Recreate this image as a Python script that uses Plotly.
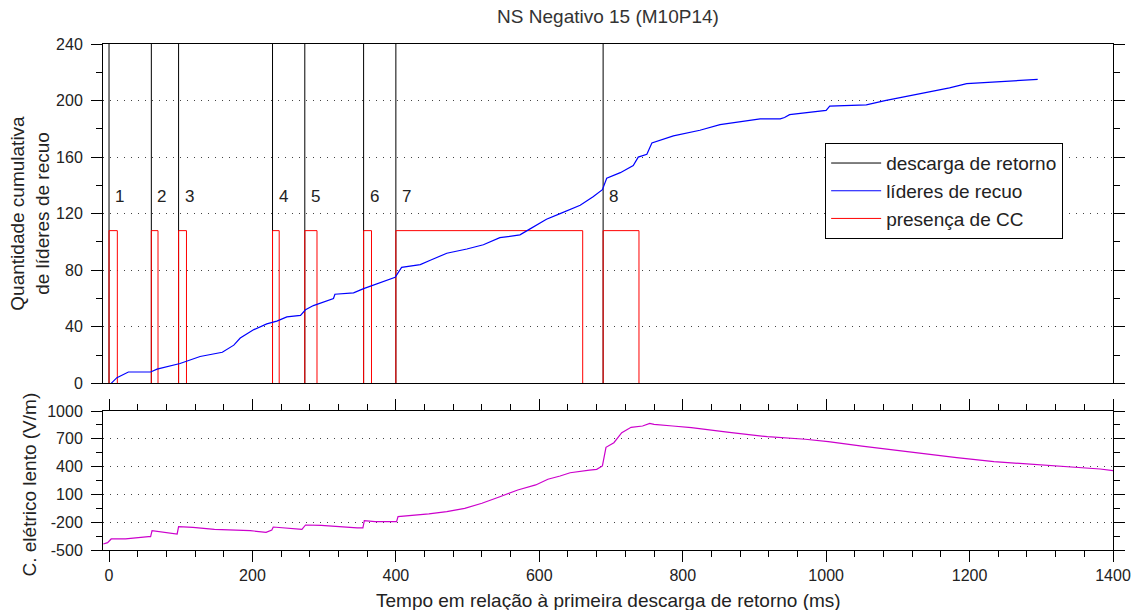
import plotly.graph_objects as go

# ---------------- data ----------------
stroke_times = [0, 59, 97, 228, 273, 355, 400, 689]
stroke_labels = ["1", "2", "3", "4", "5", "6", "7", "8"]
cc_end = [11.6, 68.3, 108, 237.3, 290, 366, 660.5, 739]
cc_level = 108

leader_t = [3, 11, 27, 58, 67, 85, 99, 127, 158, 174, 183, 202, 220, 234, 248, 267, 274, 285,
            313, 315, 341, 355, 378, 399, 408, 424, 434, 448, 471, 499, 522, 545, 573, 583,
            610, 629, 657, 675, 688, 694, 713, 731, 738, 750, 757, 787, 824, 852, 908, 936,
            942, 949, 1000, 1005, 1056, 1082, 1112, 1147, 1172, 1196, 1228, 1258, 1295]
leader_n = [0, 4, 8, 8, 10, 12, 14, 19, 22, 27, 32, 38, 42, 44, 47, 48, 52, 55,
            60, 63, 64, 67, 71, 75, 82, 83, 84, 87, 92, 95, 98, 103, 105, 108,
            116, 120, 126, 132, 137, 145, 149, 154, 160, 162, 170, 175, 179, 183, 187, 187,
            188, 190, 193, 196, 197, 200, 203, 206, 209, 212, 213, 214, 215]

field_t = [-8, -2, 3, 23, 55, 58, 60, 82, 95, 97, 117, 147, 197, 219, 227, 229, 247, 269, 274,
           296, 346, 354, 356, 371, 401, 403, 446, 471, 496, 520, 545, 570, 595, 612, 629, 643,
           670, 680, 688, 693, 704, 715, 728, 744, 754, 760, 786, 812, 865, 918, 971, 1003,
           1050, 1129, 1182, 1234, 1287, 1340, 1382, 1400]
field_e = [-435, -421, -381, -381, -356, -356, -291, -309, -327, -248, -255, -277, -291, -309,
           -284, -252, -262, -277, -230, -234, -262, -262, -184, -194, -194, -140, -111, -86,
           -50, 4, 75, 148, 202, 263, 299, 334, 363, 371, 407, 608, 658, 766, 824, 838, 867,
           856, 838, 820, 770, 723, 695, 669, 622, 544, 496, 453, 425, 392, 374, 356]

y1_ticks = [0, 40, 80, 120, 160, 200, 240]
y2_ticks = [-500, -200, 100, 400, 700, 1000]
y2_text = ["-500", "-200", "100", "400", "700", "1000"]
x_ticks = [0, 200, 400, 600, 800, 1000, 1200, 1400]

title_text = "NS Negativo 15 (M10P14)"
y1_title = "Quantidade cumulativa<br>de líderes de recuo"
y2_title = "C. elétrico lento (V/m)"
x_title = "Tempo em relação à primeira descarga de retorno (ms)"

# ---------------- figure ----------------
FONT = "Liberation Sans, Arial, sans-serif"
fig = go.Figure()

sx, sy = [], []
for t in stroke_times:
    sx += [t, t, None]
    sy += [0, 240, None]
fig.add_trace(go.Scatter(x=sx, y=sy, mode="lines", line=dict(color="#000000", width=1),
                         name="descarga de retorno", legendrank=1,
                         xaxis="x", yaxis="y", hoverinfo="skip"))

cx, cy = [], []
for s, e in zip(stroke_times, cc_end):
    cx += [s, s, e, e, None]
    cy += [0, cc_level, cc_level, 0, None]
fig.add_trace(go.Scatter(x=cx, y=cy, mode="lines", line=dict(color="#FF0000", width=1),
                         name="presença de CC", legendrank=3,
                         xaxis="x", yaxis="y"))

fig.add_trace(go.Scatter(x=leader_t, y=leader_n, mode="lines",
                         line=dict(color="#0000FF", width=1.2),
                         name="líderes de recuo", legendrank=2,
                         xaxis="x", yaxis="y"))

fig.add_trace(go.Scatter(x=field_t, y=field_e, mode="lines",
                         line=dict(color="#CC00CC", width=1.2),
                         showlegend=False, xaxis="x2", yaxis="y2"))

annotations = []
for t, lab in zip(stroke_times, stroke_labels):
    annotations.append(dict(x=t, y=132, xref="x", yref="y", text=lab, showarrow=False,
                            xanchor="left", yanchor="middle", xshift=4,
                            font=dict(size=17, color="#222", family=FONT)))

annotations.append(dict(x=0, y=0.5 * (0.3294 + 1), xref="paper", yref="paper",
                        text=y1_title, textangle=-90, showarrow=False,
                        xanchor="center", yanchor="middle", xshift=-73,
                        font=dict(size=19, color="#222", family=FONT)))
annotations.append(dict(x=0, y=0.2747 / 2, xref="paper", yref="paper",
                        text=y2_title, textangle=-90, showarrow=False,
                        xanchor="center", yanchor="middle", xshift=-73, yshift=-4,
                        font=dict(size=19, color="#222", family=FONT)))
annotations.append(dict(x=0.5, y=0, xref="paper", yref="paper",
                        text=x_title, showarrow=False,
                        xanchor="center", yanchor="middle", yshift=-50,
                        font=dict(size=19, color="#222", family=FONT)))

grid = dict(showgrid=True, gridcolor="#444444", gridwidth=1, griddash="1px,6px")
tickfont = dict(size=16, color="#222", family=FONT)

fig.update_layout(
    width=1134, height=610,
    margin=dict(l=103, r=21, t=44, b=60, autoexpand=False),
    paper_bgcolor="white", plot_bgcolor="white",
    font=dict(family=FONT, color="#222"),
    title=dict(text=title_text, x=0.5, xref="paper", xanchor="center",
               y=1 - 16 / 610, yref="container", yanchor="middle",
               font=dict(size=19, color="#333", family=FONT)),
    showlegend=True,
    legend=dict(x=0.715, y=0.804, xanchor="left", yanchor="top",
                bgcolor="white", bordercolor="#000", borderwidth=1,
                font=dict(size=19, color="#222", family=FONT),
                itemwidth=50, tracegroupgap=0,
                traceorder="normal"),
    annotations=annotations,
    xaxis=dict(domain=[0, 1], anchor="y", range=[-8.4, 1400], showticklabels=False,
               ticks="", showline=True, linecolor="#000", linewidth=1, mirror=True,
               showgrid=False, zeroline=False, automargin=False),
    yaxis=dict(domain=[0.3294, 1], anchor="x", range=[0, 240], tickmode="array",
               tickvals=y1_ticks, ticks="outside", ticklen=11, tickcolor="#000",
               minor=dict(dtick=20, tick0=0, ticks="outside", ticklen=6, tickcolor="#000",
                          showgrid=False),
               showline=True, linecolor="#000", mirror="ticks", zeroline=False,
               tickfont=tickfont, ticklabelstandoff=5, automargin=False, **grid),
    xaxis2=dict(domain=[0, 1], anchor="y2", range=[-8.4, 1400], tickmode="array",
                tickvals=x_ticks, ticks="outside", ticklen=11, tickcolor="#000",
                minor=dict(dtick=40, tick0=0, ticks="outside", ticklen=6, tickcolor="#000",
                           showgrid=False),
                showline=True, linecolor="#000", mirror="ticks", zeroline=False,
                showgrid=False, tickfont=tickfont, automargin=False),
    yaxis2=dict(domain=[0, 0.2747], anchor="x2", range=[-500, 1000], tickmode="array",
                tickvals=y2_ticks, ticktext=y2_text, ticks="outside", ticklen=11,
                tickcolor="#000",
                minor=dict(dtick=150, tick0=-500, ticks="outside", ticklen=6,
                           tickcolor="#000", showgrid=False),
                showline=True, linecolor="#000", mirror="ticks", zeroline=False,
                tickfont=tickfont, ticklabelstandoff=5, automargin=False, **grid),
)

fig.write_html(
    "out.html",
    config={"displayModeBar": False},
    post_script="document.body.style.margin='0';document.body.style.overflow='hidden';",
)
